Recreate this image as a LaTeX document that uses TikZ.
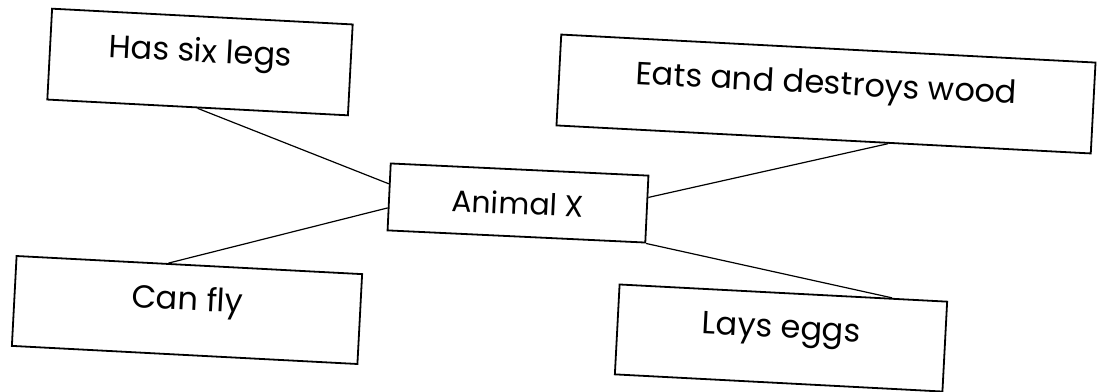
\documentclass[tikz,border=0pt]{standalone}
\usepackage{fontspec}
\setmainfont{Poppins}
\usepackage{tikz}
\usetikzlibrary{calc}

\begin{document}
\begin{tikzpicture}[x=0.5pt, y=-0.5pt,
  fact/.style={draw, rectangle, line width=0.9pt, rotate=-3,
    font=\fontsize{16}{19}\selectfont, text height=12pt, text depth=12pt,
    minimum height=45.5pt},
  link/.style={line width=0.6pt}]
  \useasboundingbox (0,0) rectangle (1101,391);
  % Nodes
  \node [draw, rectangle, line width=0.9pt, rotate=-2.7, font=\fontsize{15}{18}\selectfont,
    minimum width=129pt, minimum height=33.5pt] (animal) at (518,203) {Animal X};
  \node [fact, minimum width=150.5pt] (legs) at (200,62) {Has six legs};
  \node [fact, minimum width=267.5pt] (wood) at (826,94) {Eats and destroys wood};
  \node [fact, minimum width=173pt, minimum height=45pt] (fly) at (187,310) {Can fly};
  \node [fact, minimum width=164pt, minimum height=45pt] (eggs) at (781,338) {Lays eggs};
  % Lines
  \draw [link] (legs.south) -- ($(animal.north west)!0.31!(animal.south west)$);
  \draw [link] ($(fly.north west)!0.44!(fly.north east)$) -- ($(animal.north west)!0.66!(animal.south west)$);
  \draw [link] ($(wood.south west)!0.62!(wood.south east)$) -- ($(animal.north east)!0.33!(animal.south east)$);
  \draw [link] (animal.south east) -- ($(eggs.north west)!0.83!(eggs.north east)$);
\end{tikzpicture}
\end{document}
